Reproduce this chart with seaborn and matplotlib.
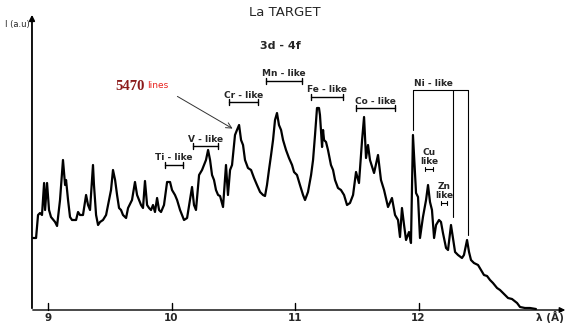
import numpy as np
import pandas as pd
import matplotlib
matplotlib.use("Agg")
from matplotlib import pyplot as plt
import seaborn as sns

sns.set_style("white")
plt.rcParams['font.family'] = ['DejaVu Sans']

# spectrum (wavelength in Angstrom, intensity in arb. units)
wavelength = [8.879, 8.903, 8.919, 8.935, 8.951, 8.968, 8.976, 8.992, 9.008, 9.024,
              9.057, 9.073, 9.097, 9.121, 9.138, 9.146, 9.162, 9.178, 9.194, 9.227,
              9.243, 9.259, 9.283, 9.308, 9.324, 9.340, 9.364, 9.372, 9.389, 9.405,
              9.421, 9.445, 9.470, 9.494, 9.510, 9.526, 9.543, 9.559, 9.575, 9.591,
              9.607, 9.632, 9.648, 9.680, 9.704, 9.721, 9.737, 9.753, 9.769, 9.785,
              9.802, 9.818, 9.834, 9.850, 9.866, 9.883, 9.899, 9.915, 9.939, 9.964,
              9.988, 10.004, 10.028, 10.045, 10.069, 10.101, 10.126, 10.166, 10.182, 10.198,
              10.223, 10.247, 10.263, 10.279, 10.296, 10.312, 10.328, 10.344, 10.360, 10.377,
              10.393, 10.417, 10.441, 10.457, 10.474, 10.490, 10.514, 10.530, 10.547, 10.563,
              10.579, 10.595, 10.619, 10.644, 10.668, 10.692, 10.717, 10.741, 10.757, 10.773,
              10.789, 10.806, 10.822, 10.838, 10.854, 10.870, 10.887, 10.903, 10.927, 10.951,
              10.976, 10.992, 11.016, 11.040, 11.065, 11.081, 11.105, 11.130, 11.146, 11.162,
              11.178, 11.194, 11.202, 11.219, 11.227, 11.235, 11.251, 11.267, 11.291, 11.308,
              11.324, 11.348, 11.372, 11.397, 11.421, 11.445, 11.470, 11.494, 11.518, 11.543,
              11.559, 11.575, 11.591, 11.607, 11.640, 11.672, 11.696, 11.721, 11.753, 11.785,
              11.810, 11.834, 11.850, 11.866, 11.883, 11.899, 11.923, 11.939, 11.955, 11.980,
              11.996, 12.012, 12.036, 12.061, 12.077, 12.093, 12.109, 12.126, 12.142, 12.166,
              12.182, 12.198, 12.223, 12.239, 12.263, 12.279, 12.296, 12.320, 12.352, 12.368,
              12.393, 12.409, 12.425, 12.449, 12.482, 12.506, 12.530, 12.555, 12.579, 12.603,
              12.636, 12.660, 12.700, 12.725, 12.757, 12.798, 12.822, 12.862, 12.903, 12.951]
intensity = [72, 72, 95, 97, 95, 127, 100, 127, 100, 93,
             88, 84, 110, 150, 125, 130, 110, 93, 90, 90,
             98, 95, 95, 115, 105, 100, 145, 125, 95, 85,
             88, 90, 95, 110, 120, 140, 130, 115, 102, 100,
             95, 92, 102, 110, 128, 115, 110, 105, 102, 129,
             105, 102, 100, 105, 98, 112, 100, 98, 105, 128,
             128, 120, 115, 110, 100, 90, 92, 123, 105, 100,
             135, 140, 145, 150, 160, 150, 135, 130, 120, 115,
             114, 103, 145, 115, 140, 145, 175, 180, 185, 170,
             165, 150, 142, 140, 132, 125, 118, 115, 114, 125,
             140, 155, 170, 190, 197, 185, 180, 170, 160, 152,
             145, 138, 135, 125, 115, 110, 118, 135, 150, 175,
             202, 202, 195, 163, 180, 170, 168, 160, 145, 140,
             130, 122, 120, 115, 105, 107, 115, 138, 127, 170,
             193, 152, 165, 150, 137, 155, 130, 120, 103, 112,
             95, 90, 73, 102, 85, 70, 78, 67, 175, 117,
             113, 72, 93, 110, 125, 108, 100, 72, 85, 90,
             88, 77, 62, 60, 85, 72, 58, 55, 52, 55,
             70, 58, 50, 47, 45, 40, 35, 34, 30, 27,
             22, 20, 15, 12, 11, 7, 3, 2, 2, 1]

x_ticks = [9, 10, 11, 12]

# ion groups: label, start, end of the bracket
ion_names = ['Ti - like', 'V - like', 'Cr - like', 'Mn - like', 'Fe - like', 'Co - like']
ion_start = [9.947, 10.174, 10.466, 10.765, 11.130, 11.494]
ion_end = [10.093, 10.377, 10.700, 11.057, 11.389, 11.810]
ion_level = [145, 164, 208, 229, 213, 202]

small_names = ['Cu\nlike', 'Zn\nlike']
small_start = [12.053, 12.182]
small_end = [12.117, 12.231]
small_level = [141, 107]

# Ni-like box: left edge, Cu/Zn boundary lines
ni_edges = [11.955, 12.279, 12.401]
ni_bottom = [180, 93, 75]
ni_top = 220

df = pd.DataFrame({'wavelength': wavelength, 'intensity': intensity})

fig = plt.figure(figsize=(5.73, 3.24), dpi=100)
ax = fig.add_axes([0, 0, 1, 1])

sns.lineplot(data=df, x='wavelength', y='intensity', ax=ax, color='black', lw=1.6)

ax.set_xlim(8.611, 13.251)
ax.set_ylim(-14, 310)
ax.axis('off')

# hand drawn axes with arrows
ax.annotate('', xy=(8.870, 298), xytext=(8.870, -1),
            arrowprops=dict(arrowstyle='-|>', color='black', lw=1.3, mutation_scale=8))
ax.annotate('', xy=(13.211, 0), xytext=(8.854, 0),
            arrowprops=dict(arrowstyle='-|>', color='black', lw=1.0, mutation_scale=8))
for t in x_ticks:
    ax.plot([t, t], [0, 7], color='black', lw=1.0)
    ax.text(t, -8, str(t), ha='center', va='center', fontsize=7.5, fontweight='bold')

ax.text(13.065, -7, 'λ (Å)', ha='center', va='center', fontsize=7.5, fontweight='bold')
ax.text(8.755, 285, 'I (a.u)', ha='center', va='center', fontsize=6)

ax.text(10.919, 298, 'La TARGET', ha='center', va='center', fontsize=9.5)
ax.text(10.879, 264, '3d - 4f', ha='center', va='center', fontsize=8, fontweight='bold')

# the "5470 lines" note with its arrow
ax.text(9.664, 224, '5470', ha='center', va='center', fontsize=10.5,
        family='Liberation Serif', fontweight='bold', color='#8b1a1a')
ax.text(9.890, 225, 'lines', ha='center', va='center', fontsize=6.5, color='#e8221e')
ax.annotate('', xy=(10.514, 180), xytext=(10.028, 215),
            arrowprops=dict(arrowstyle='->', color='#333333', lw=0.7))

for name, a, b, h in zip(ion_names, ion_start, ion_end, ion_level):
    ax.plot([a, b], [h, h], color='black', lw=1.0)
    ax.plot([a, a], [h - 3, h + 3], color='black', lw=1.0)
    ax.plot([b, b], [h - 3, h + 3], color='black', lw=1.0)
    ax.text((a + b) / 2, h + 7, name, ha='center', va='center', fontsize=6.5, fontweight='bold')

for name, a, b, h in zip(small_names, small_start, small_end, small_level):
    ax.plot([a, b], [h, h], color='black', lw=0.8)
    ax.plot([a, a], [h - 2, h + 2], color='black', lw=0.8)
    ax.plot([b, b], [h - 2, h + 2], color='black', lw=0.8)
    ax.text((a + b) / 2, h + 12, name, ha='center', va='center', fontsize=6.5,
            fontweight='bold', linespacing=1.1)

ax.plot([ni_edges[0], ni_edges[-1]], [ni_top, ni_top], color='black', lw=0.8)
for e, lo in zip(ni_edges, ni_bottom):
    ax.plot([e, e], [lo, ni_top], color='black', lw=0.8)
ax.text((ni_edges[0] + ni_edges[1]) / 2, ni_top + 6, 'Ni - like', ha='center', va='center',
        fontsize=6.5, fontweight='bold')

fig.savefig('out.png', dpi=100)
